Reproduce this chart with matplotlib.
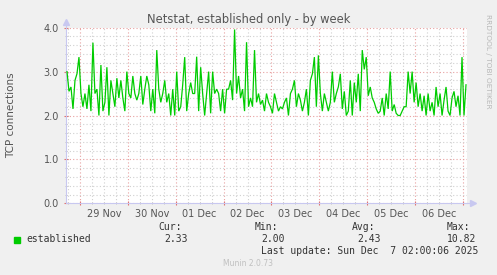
import matplotlib
matplotlib.use("Agg")
import matplotlib.pyplot as plt
import matplotlib.dates as mdates
from matplotlib.ticker import MultipleLocator, FuncFormatter
import pandas as pd

title = "Netstat, established only - by week"
ylabel = "TCP connections"
series_name = "established"
start_time = "2025-11-28 17:30"
xlim = ("2025-11-28 17:00", "2025-12-07 02:00")
ylim = (0.0, 4.0)
legend_heads = ["Cur:", "Min:", "Avg:", "Max:"]
legend_vals = ["2.33", "2.00", "2.43", "10.82"]
last_update = "Last update: Sun Dec  7 02:00:06 2025"
footer = "Munin 2.0.73"
side_text = "RRDTOOL / TOBI OETIKER"

established = [
    3.0, 2.55, 2.65, 2.15, 2.8, 2.95, 3.33, 2.5, 2.2, 2.5,
    2.15, 2.7, 2.1, 3.66, 2.5, 2.6, 2.0, 3.15, 2.1, 2.3,
    3.1, 2.0, 2.8, 2.5, 2.2, 2.85, 2.4, 2.8, 2.4, 2.1,
    3.0, 2.5, 2.4, 2.9, 2.5, 2.35, 2.5, 2.9, 2.25, 2.6,
    2.9, 2.7, 2.1, 2.6, 2.05, 3.49, 2.6, 2.3, 2.5, 2.8,
    2.3, 2.5, 2.0, 2.6, 2.0, 3.0, 2.1, 2.2, 2.7, 3.33,
    2.1, 2.5, 2.75, 2.5, 2.5, 3.34, 2.1, 3.1, 2.5, 2.0,
    2.5, 3.0, 2.05, 3.0, 2.5, 2.6, 2.5, 2.1, 2.6, 2.05,
    2.6, 2.6, 2.8, 2.35, 3.96, 2.5, 2.9, 2.4, 2.6, 2.1,
    3.67, 2.2, 2.4, 2.2, 3.49, 2.3, 2.5, 2.25, 2.35, 2.1,
    2.5, 2.3, 2.2, 2.05, 2.5, 2.3, 2.1, 2.2, 2.15, 2.3,
    2.4, 2.0, 2.5, 2.6, 2.8, 2.2, 2.5, 2.35, 2.1, 2.3,
    2.6, 2.0, 2.8, 2.95, 3.33, 2.2, 3.37, 2.5, 2.1, 2.5,
    2.3, 2.1, 2.3, 3.0, 2.3, 2.5, 2.65, 2.95, 2.15, 2.55,
    2.0, 2.1, 2.8, 2.0, 2.75, 2.3, 2.95, 2.1, 3.49, 3.05,
    3.33, 2.45, 2.65, 2.4, 2.3, 2.15, 2.05, 2.1, 2.4, 2.0,
    2.5, 2.15, 3.0, 2.1, 2.25, 2.05, 2.0, 2.0, 2.1, 2.2,
    2.2, 3.0, 2.5, 3.0, 2.3, 2.75, 2.2, 2.5, 2.1, 2.45,
    2.0, 2.5, 2.1, 2.3, 2.0, 2.65, 2.2, 2.5, 2.0, 2.35,
    2.65, 2.1, 2.0, 2.4, 2.55, 2.2, 2.45, 2.0, 3.33, 2.0,
    2.7,
]

W, H = 497, 275
BG = "#f0f0f0"
TXT = "#555555"
AXC = "#c8c8f0"
RED = "#e8a0a0"
GRAY = "#d0d0d0"
GREEN = "#00cc00"

def fx(x):
    return x / W

def fy(y):
    return 1 - y / H

fig = plt.figure(figsize=(W / 100, H / 100), dpi=100, facecolor=BG)
L, R, T, B = 66, 467, 27.7, 203.3
ax = fig.add_axes([fx(L), fy(B), (R - L) / W, (B - T) / H])
ax.set_facecolor("white")

times = pd.date_range(start_time, periods=len(established), freq="h")
ax.plot(times, established, color=GREEN, lw=0.9, solid_joinstyle="miter", zorder=3)

ax.set_xlim(pd.Timestamp(xlim[0]), pd.Timestamp(xlim[1]))
ax.set_ylim(*ylim)

ax.xaxis.set_major_locator(mdates.DayLocator())
ax.xaxis.set_major_formatter(FuncFormatter(lambda v, p: ""))
ax.xaxis.set_minor_locator(mdates.HourLocator(byhour=[0, 6, 12, 18]))

def minor_fmt(v, p):
    d = mdates.num2date(v)
    return d.strftime("%d %b") if d.hour == 12 else ""

ax.xaxis.set_minor_formatter(FuncFormatter(minor_fmt))
ax.yaxis.set_major_locator(MultipleLocator(1.0))
ax.yaxis.set_minor_locator(MultipleLocator(0.2))
ax.yaxis.set_major_formatter(FuncFormatter(lambda v, p: f"{v:.1f}"))

ax.grid(which="major", color=RED, linestyle=(0, (1, 2)), lw=0.8, zorder=1)
ax.grid(which="minor", color=GRAY, linestyle=(0, (1, 2)), lw=0.8, zorder=1)

for s in ["top", "right"]:
    ax.spines[s].set_visible(False)
for s in ["left", "bottom"]:
    ax.spines[s].set_color(AXC)
    ax.spines[s].set_linewidth(0.8)

ax.tick_params(axis="x", which="major", length=2.5, color="#e07070", direction="inout",
               labelsize=7, labelcolor=TXT)
ax.tick_params(axis="x", which="minor", length=2, color="#bbbbbb", direction="inout",
               labelsize=7, labelcolor=TXT, pad=3)
ax.tick_params(axis="y", which="major", length=2.5, color="#e07070", direction="inout",
               labelsize=7, labelcolor=TXT, pad=4)
ax.tick_params(axis="y", which="minor", length=2, color="#bbbbbb", direction="inout")

# axis arrows
ax.plot([0, 0], [1.0, 1.03], transform=ax.transAxes, color=AXC, lw=0.8, clip_on=False)
ax.plot([0], [1.035], transform=ax.transAxes, marker="^", color=AXC, ms=4, clip_on=False)
ax.plot([1.0, 1.012], [0, 0], transform=ax.transAxes, color=AXC, lw=0.8, clip_on=False)
ax.plot([1.014], [0], transform=ax.transAxes, marker=">", color=AXC, ms=4, clip_on=False)

fig.text(fx(249), fy(19.5), title, ha="center", va="center", fontsize=8.3, color=TXT)
fig.text(fx(11), fy(115), ylabel, ha="center", va="center", rotation=90, fontsize=7.5, color=TXT)
fig.text(fx(488), fy(14), side_text, ha="center", va="top", rotation=270, fontsize=5.3, color="#b8b8b8")

mono = "DejaVu Sans Mono"
fig.patches.append(plt.Rectangle((fx(14), fy(243)), 6 / W, 6 / H, transform=fig.transFigure,
                                 color=GREEN, figure=fig))
fig.text(fx(26), fy(239.5), series_name, ha="left", va="center", fontsize=7, family=mono, color="#333333")
head_x = [158, 255, 352, 447]
val_x = [164, 261, 357, 447]
for hx, vx, h, v in zip(head_x, val_x, legend_heads, legend_vals):
    fig.text(fx(hx), fy(227.5), h, ha="left", va="center", fontsize=7, family=mono, color="#333333")
    fig.text(fx(vx), fy(239.5), v, ha="left", va="center", fontsize=7, family=mono, color="#333333")
fig.text(fx(261), fy(251.5), last_update, ha="left", va="center", fontsize=7, family=mono, color="#333333")
fig.text(fx(248), fy(264), footer, ha="center", va="center", fontsize=5.5, color="#c0c0c0")

fig.savefig("out.png", dpi=100, facecolor=BG)
